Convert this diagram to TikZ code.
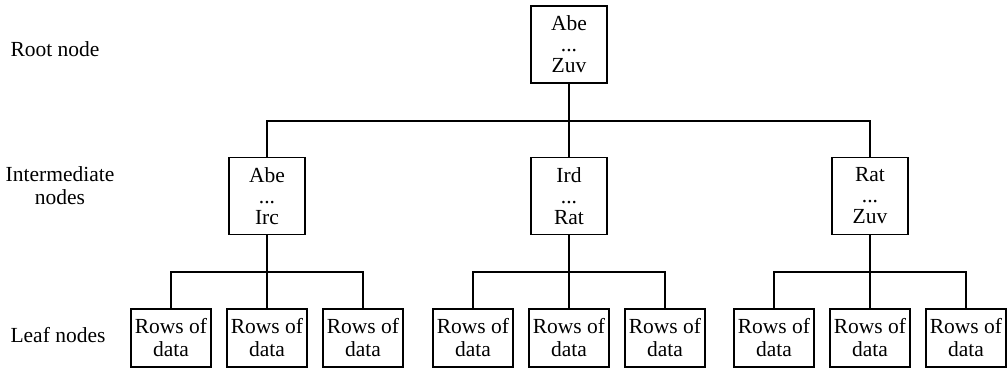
\documentclass[tikz,border=0pt]{standalone}
\usepackage{fontspec}
\setmainfont{Liberation Serif}
\begin{document}
\begin{tikzpicture}[x=1pt,y=-1pt,line width=1.2pt,
  every node/.style={font=\fontsize{21.5}{22}\selectfont, inner sep=0pt},
  keybox/.style={draw, minimum width=76pt, minimum height=77pt, align=center, font=\fontsize{21.5}{21}\selectfont},
  leafbox/.style={draw, minimum width=80pt, minimum height=58pt, align=center, font=\fontsize{21.5}{23}\selectfont},
  sidelabel/.style={align=center, font=\fontsize{21.5}{23}\selectfont}]
\useasboundingbox (0,0) rectangle (1008,383);
% labels
\node[sidelabel] (lroot) at (55,49) {Root node};
\node[sidelabel] (linter) at (60,186) {Intermediate\\nodes};
\node[sidelabel] (lleaf) at (58,335) {Leaf nodes};
% root
\node[keybox] (root) at (569,44.5) {Abe\\...\\Zuv};
% intermediate
\node[keybox] (i1) at (267,196) {Abe\\...\\Irc};
\node[keybox] (i2) at (569,196) {Ird\\...\\Rat};
\node[keybox] (i3) at (870,196) {Rat\\...\\Zuv};
% leaves
\foreach \g/\cx in {1/267,2/569,3/870}{
  \foreach \k/\d in {0/-96,1/0,2/96}{
    \node[leafbox] (l\g\k) at ({\cx+\d},338) {Rows of\\data};
  }
}
% connectors
\coordinate (j0) at (569,121);
\draw (root.south) -- (j0);
\draw (j0) -| (i1.north);
\draw (j0) -| (i3.north);
\draw (j0) -- (i2.north);
\foreach \g in {1,2,3}{
  \coordinate (b\g) at (i\g.south |- 0,272);
  \draw (i\g.south) -- (l\g1.north);
  \draw (b\g) -| (l\g0.north);
  \draw (b\g) -| (l\g2.north);
}
\end{tikzpicture}
\end{document}
